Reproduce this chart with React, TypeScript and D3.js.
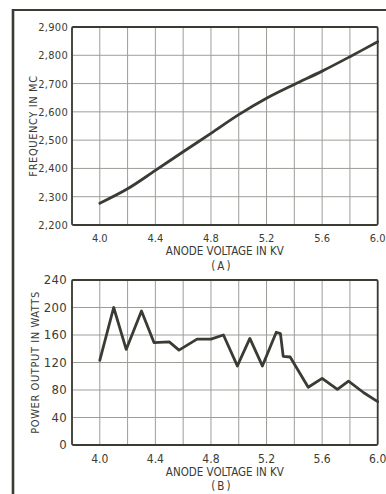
import React from "react";
import * as d3 from "d3";

// Panel A: frequency vs anode voltage
const freqVoltage = [4.0, 4.2, 4.4, 4.6, 4.8, 5.0, 5.2, 5.4, 5.6, 5.8, 6.0];
const freqMc = [2277, 2328, 2393, 2459, 2524, 2590, 2648, 2697, 2744, 2795, 2848];

// Panel B: power output vs anode voltage
const powerVoltage = [4.0, 4.1, 4.19, 4.3, 4.39, 4.5, 4.57, 4.7, 4.8, 4.89, 4.99, 5.08, 5.17, 5.27, 5.3, 5.32, 5.37, 5.5, 5.6, 5.71, 5.79, 5.9, 6.0];
const powerWatts = [123, 200, 139, 195, 149, 150, 138, 154, 154, 160, 115, 155, 115, 164, 162, 129, 128, 84, 97, 81, 93, 76, 63];

const xTickLabels = [4.0, 4.4, 4.8, 5.2, 5.6, 6.0];
const freqTicks = [2200, 2300, 2400, 2500, 2600, 2700, 2800, 2900];
const powerTicks = [0, 40, 80, 120, 160, 200, 240];
const xGrid = [3.8, 4.0, 4.2, 4.4, 4.6, 4.8, 5.0, 5.2, 5.4, 5.6, 5.8, 6.0];

const INK = "#3a3c34";
const GRID = "#9d9d98";
const FONT = "'DejaVu Sans Condensed', 'Liberation Sans Narrow', 'DejaVu Sans', sans-serif";

type PanelProps = {
  top: number;
  bottom: number;
  yDomain: [number, number];
  yTicks: number[];
  yFmt: (v: number) => string;
  xs: number[];
  ys: number[];
  smooth: boolean;
  yTitle: string;
  yTitleX: number;
  yLabelX: number;
  tickBase: number;
  titleBase: number;
  letterBase: number;
  letter: string;
  fontSize: number;
  yFontSize: number;
};

function Panel(p: PanelProps) {
  const x = d3.scaleLinear().domain([3.8, 6.0]).range([72, 377.7]);
  const y = d3.scaleLinear().domain(p.yDomain).range([p.bottom, p.top]);
  const line = d3
    .line<number>()
    .x((_, i) => x(p.xs[i]))
    .y((v) => y(v))
    .curve(p.smooth ? d3.curveCatmullRom.alpha(0.5) : d3.curveLinear);
  const cx = (x.range()[0] + x.range()[1]) / 2;
  const yMid = (p.top + p.bottom) / 2;
  return (
    <g>
      {xGrid.map((v) => (
        <line key={"xg" + v} x1={x(v)} x2={x(v)} y1={p.top} y2={p.bottom} stroke={GRID} strokeWidth={1} />
      ))}
      {p.yTicks.map((v) => (
        <line key={"yg" + v} x1={x.range()[0]} x2={x.range()[1]} y1={y(v)} y2={y(v)} stroke={GRID} strokeWidth={1} />
      ))}
      <rect
        x={x.range()[0]}
        y={p.top}
        width={x.range()[1] - x.range()[0]}
        height={p.bottom - p.top}
        fill="none"
        stroke={INK}
        strokeWidth={1.8}
        rx={1.5}
      />
      <path d={line(p.ys) || ""} fill="none" stroke={INK} strokeWidth={2.8} strokeLinejoin="round" strokeLinecap="round" />
      {p.yTicks.map((v) => (
        <text key={"yl" + v} x={p.yLabelX} y={y(v) + 4} textAnchor="end" fontSize={p.yFontSize} fill={INK} fontFamily={FONT} letterSpacing={0.3}>
          {p.yFmt(v)}
        </text>
      ))}
      {xTickLabels.map((v) => (
        <text key={"xl" + v} x={x(v)} y={p.tickBase} textAnchor="middle" fontSize={p.fontSize} fill={INK} fontFamily={FONT}>
          {d3.format(".1f")(v)}
        </text>
      ))}
      <text x={cx} y={p.titleBase} textAnchor="middle" fontSize={11.5} fill={INK} fontFamily={FONT}>
        ANODE VOLTAGE IN KV
      </text>
      <text x={cx - 3} y={p.letterBase} textAnchor="middle" fontSize={11.5} fill={INK} fontFamily={FONT} letterSpacing={2}>
        {"(" + p.letter + ")"}
      </text>
      <text
        transform={`translate(${p.yTitleX},${yMid}) rotate(-90)`}
        textAnchor="middle"
        fontSize={11}
        fill={INK}
        fontFamily={FONT}
        letterSpacing={0.6}
      >
        {p.yTitle}
      </text>
    </g>
  );
}

export default function App() {
  return (
    <svg
      width={386}
      height={494}
      viewBox="0 0 386 494"
      style={{ position: "absolute", left: 0, top: 0, background: "#ffffff" }}
    >
      <rect x={0} y={0} width={386} height={494} fill="#ffffff" />
      <line x1={13} x2={386} y1={10} y2={10} stroke={INK} strokeWidth={2} />
      <line x1={13} x2={13} y1={9} y2={494} stroke={INK} strokeWidth={2.6} />
      <Panel
        top={27}
        bottom={225}
        yDomain={[2200, 2900]}
        yTicks={freqTicks}
        yFmt={d3.format(",")}
        xs={freqVoltage}
        ys={freqMc}
        smooth={true}
        yTitle="FREQUENCY IN MC"
        yTitleX={37}
        yLabelX={68}
        tickBase={242}
        titleBase={255}
        letterBase={270}
        letter="A"
        fontSize={11}
        yFontSize={11}
      />
      <Panel
        top={280}
        bottom={445}
        yDomain={[0, 240]}
        yTicks={powerTicks}
        yFmt={(v) => String(v)}
        xs={powerVoltage}
        ys={powerWatts}
        smooth={false}
        yTitle="POWER OUTPUT IN WATTS"
        yTitleX={39}
        yLabelX={67}
        tickBase={463}
        titleBase={476}
        letterBase={490}
        letter="B"
        fontSize={12}
        yFontSize={13}
      />
    </svg>
  );
}
